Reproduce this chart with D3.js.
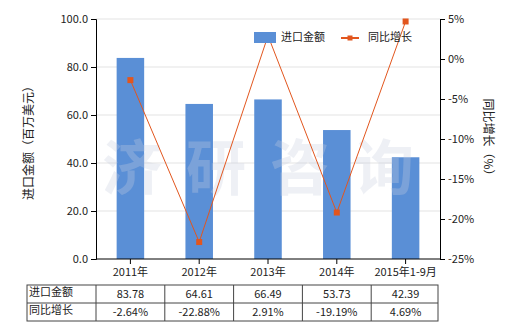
<!DOCTYPE html>
<html>
<head>
<meta charset="utf-8">
<script src="https://cdn.jsdelivr.net/npm/d3@7"></script>
<style>
  body { margin: 0; background: #fff; }
  text { font-family: "Noto Sans CJK SC", "DejaVu Sans", sans-serif; font-size: 11px; fill: #222; }
</style>
</head>
<body>
<svg id="chart" width="520" height="330"></svg>
<script>
const categories = ["2011年", "2012年", "2013年", "2014年", "2015年1-9月"];
const importValues = [83.78, 64.61, 66.49, 53.73, 42.39];
const growthValues = [-2.64, -22.88, 2.91, -19.19, 4.69];
const leftTicks = [0, 20, 40, 60, 80, 100];
const rightTicks = [5, 0, -5, -10, -15, -20, -25];
const barName = "进口金额";
const lineName = "同比增长";

const svg = d3.select("#chart");
const plotLeft = 96, plotRight = 440, plotTop = 19, plotBottom = 259;

const x = d3.scaleBand().domain(categories).range([plotLeft, plotRight]).paddingInner(0.6).paddingOuter(0.3);
const xc = d3.scaleBand().domain(categories).range([plotLeft, plotRight]);
const yL = d3.scaleLinear().domain([0, 100]).range([plotBottom, plotTop]);
const yR = d3.scaleLinear().domain([-25, 5]).range([plotBottom, plotTop]);

// grid lines
svg.append("g")
  .selectAll("line")
  .data(leftTicks.slice(1))
  .enter()
  .append("line")
  .attr("x1", plotLeft).attr("x2", plotRight)
  .attr("y1", d => yL(d)).attr("y2", d => yL(d))
  .attr("stroke", "#e3e3e3");

// bars
svg.append("g")
  .selectAll("rect")
  .data(importValues)
  .enter()
  .append("rect")
  .attr("x", (d, i) => x(categories[i]))
  .attr("width", x.bandwidth())
  .attr("y", d => yL(d))
  .attr("height", d => yL(0) - yL(d))
  .attr("fill", "#5a8fd6");

// watermark
svg.append("text")
  .attr("x", 270).attr("y", 190)
  .attr("text-anchor", "middle")
  .style("font-size", "60px")
  .style("font-weight", "bold")
  .style("fill", "#c8cfe0")
  .style("opacity", 0.3)
  .style("letter-spacing", "24px")
  .text("济研咨询");

// line
const line = d3.line()
  .x((d, i) => xc(categories[i]) + xc.bandwidth() / 2)
  .y(d => yR(d));
svg.append("path")
  .datum(growthValues)
  .attr("d", line)
  .attr("fill", "none")
  .attr("stroke", "#e2561e")
  .attr("stroke-width", 1);
svg.append("g")
  .selectAll("rect")
  .data(growthValues)
  .enter()
  .append("rect")
  .attr("x", (d, i) => xc(categories[i]) + xc.bandwidth() / 2 - 3)
  .attr("y", d => yR(d) - 3)
  .attr("width", 6).attr("height", 6)
  .attr("fill", "#e2561e");

// axes
const axL = svg.append("g")
  .attr("transform", `translate(${plotLeft},0)`)
  .call(d3.axisLeft(yL).tickValues(leftTicks).tickFormat(d3.format(".1f")).tickSize(5));
const axR = svg.append("g")
  .attr("transform", `translate(${plotRight},0)`)
  .call(d3.axisRight(yR).tickValues(rightTicks).tickFormat(d => d + "%").tickSize(5));
const axB = svg.append("g")
  .attr("transform", `translate(0,${plotBottom})`)
  .call(d3.axisBottom(xc).tickSize(5).tickPadding(4));
[axL, axR, axB].forEach(a => {
  a.select(".domain").attr("stroke", "#000");
  a.selectAll(".tick line").attr("stroke", "#000");
  a.selectAll("text").style("font-size", "11px").style("fill", "#222").style("font-family", null);
});
axB.select(".domain").attr("d", `M${plotLeft},0H${plotRight}`);

// axis titles
svg.append("text")
  .attr("transform", "translate(33,140) rotate(-90)")
  .attr("text-anchor", "middle")
  .style("font-size", "12px")
  .text("进口金额（百万美元）");
svg.append("text")
  .attr("transform", "translate(484,140) rotate(90)")
  .attr("text-anchor", "middle")
  .style("font-size", "12px")
  .text("同比增长（%）");

// legend
svg.append("rect").attr("x", 254).attr("y", 32).attr("width", 22).attr("height", 11).attr("fill", "#5a8fd6");
svg.append("text").attr("x", 281).attr("y", 38).attr("dominant-baseline", "middle").text(barName);
svg.append("line").attr("x1", 341).attr("x2", 359).attr("y1", 38).attr("y2", 38).attr("stroke", "#e2561e").attr("stroke-width", 2);
svg.append("rect").attr("x", 347.5).attr("y", 35.5).attr("width", 5).attr("height", 5).attr("fill", "#e2561e");
svg.append("text").attr("x", 368).attr("y", 38).attr("dominant-baseline", "middle").text(lineName);

// table
const tTop = 285, rowH = 18, labelLeft = 27, tRight = 438;
const rows = [
  { label: barName, vals: importValues.map(d => d.toFixed(2)) },
  { label: lineName, vals: growthValues.map(d => d.toFixed(2) + "%") }
];
const table = svg.append("g");
table.append("rect")
  .attr("x", labelLeft).attr("y", tTop)
  .attr("width", tRight - labelLeft).attr("height", rowH * 2)
  .attr("fill", "none").attr("stroke", "#444");
table.append("line")
  .attr("x1", labelLeft).attr("x2", tRight)
  .attr("y1", tTop + rowH).attr("y2", tTop + rowH)
  .attr("stroke", "#444");
table.selectAll("line.col")
  .data(categories)
  .enter()
  .append("line")
  .attr("class", "col")
  .attr("x1", d => xc(d)).attr("x2", d => xc(d))
  .attr("y1", tTop).attr("y2", tTop + rowH * 2)
  .attr("stroke", "#444");
rows.forEach((r, ri) => {
  const cy = tTop + ri * rowH + rowH / 2;
  table.append("text").attr("x", labelLeft + 2).attr("y", cy - 1)
    .attr("dominant-baseline", "middle").text(r.label);
  table.selectAll(null)
    .data(r.vals)
    .enter()
    .append("text")
    .attr("x", (d, i) => xc(categories[i]) + xc.bandwidth() / 2)
    .attr("y", cy + 1)
    .attr("text-anchor", "middle")
    .attr("dominant-baseline", "middle")
    .text(d => d);
});
</script>
</body>
</html>
